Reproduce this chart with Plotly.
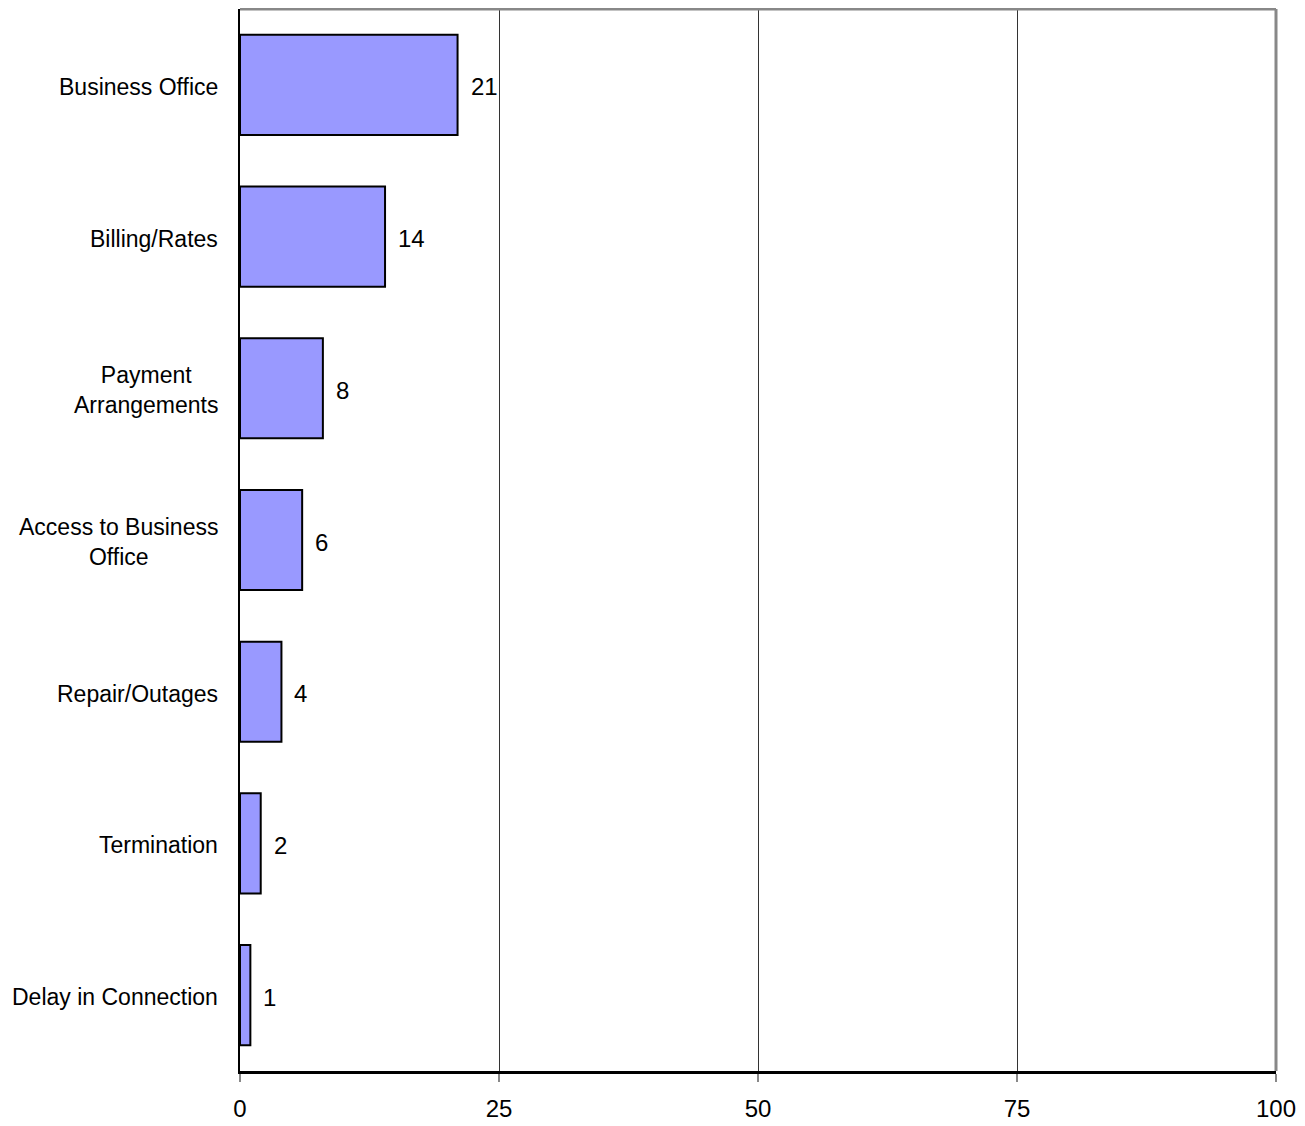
import plotly.graph_objects as go

categories = ["Business Office", "Billing/Rates", "Payment<br>Arrangements",
              "Access to Business<br>Office", "Repair/Outages", "Termination",
              "Delay in Connection"]
values = [21, 14, 8, 6, 4, 2, 1]
x_ticks = [0, 25, 50, 75, 100]

FONT = "Liberation Sans, Arial, sans-serif"
FS = 24
FS_CAT = 23

fig = go.Figure()
fig.add_trace(go.Bar(
    y=categories, x=values, orientation="h",
    marker=dict(color="#9999FF", line=dict(color="black", width=2)),
    width=0.66,
    cliponaxis=False,
))

for c, v in zip(categories, values):
    fig.add_annotation(
        x=v, xref="x", xshift=11, yshift=-2, y=c, yref="y",
        text=str(v), showarrow=False, xanchor="left", yanchor="middle",
        font=dict(family=FONT, size=FS, color="black"),
    )
    fig.add_annotation(
        x=0, xref="paper", xshift=-20, yshift=-2, y=c, yref="y",
        text=c, showarrow=False, xanchor="right", yanchor="middle",
        align="center", font=dict(family=FONT, size=FS_CAT, color="black"),
    )

fig.update_layout(
    width=1297, height=1118,
    margin=dict(l=232, r=29, t=1, b=55),
    plot_bgcolor="white", paper_bgcolor="white",
    showlegend=False,
)
fig.update_xaxes(
    range=[0, 100], tickvals=x_ticks, ticktext=[str(t) for t in x_ticks],
    showgrid=True, gridcolor="#333333", gridwidth=1,
    showline=True, linecolor="black", linewidth=3,
    ticks="outside", ticklen=8, tickcolor="#888888", tickwidth=2,
    ticklabelstandoff=6,
    tickfont=dict(family=FONT, size=FS, color="black"),
    zeroline=False, fixedrange=True,
)
fig.update_yaxes(
    categoryorder="array", categoryarray=categories[::-1],
    showticklabels=False, showgrid=False,
    showline=True, linecolor="black", linewidth=2,
    zeroline=False,
)
fig.add_shape(type="line", xref="paper", yref="paper", x0=0, x1=1, y0=1, y1=1,
              line=dict(color="#888888", width=3))
fig.add_shape(type="line", xref="paper", yref="paper", x0=1, x1=1, y0=0, y1=1,
              line=dict(color="#888888", width=3))

fig.write_html("out.html")
